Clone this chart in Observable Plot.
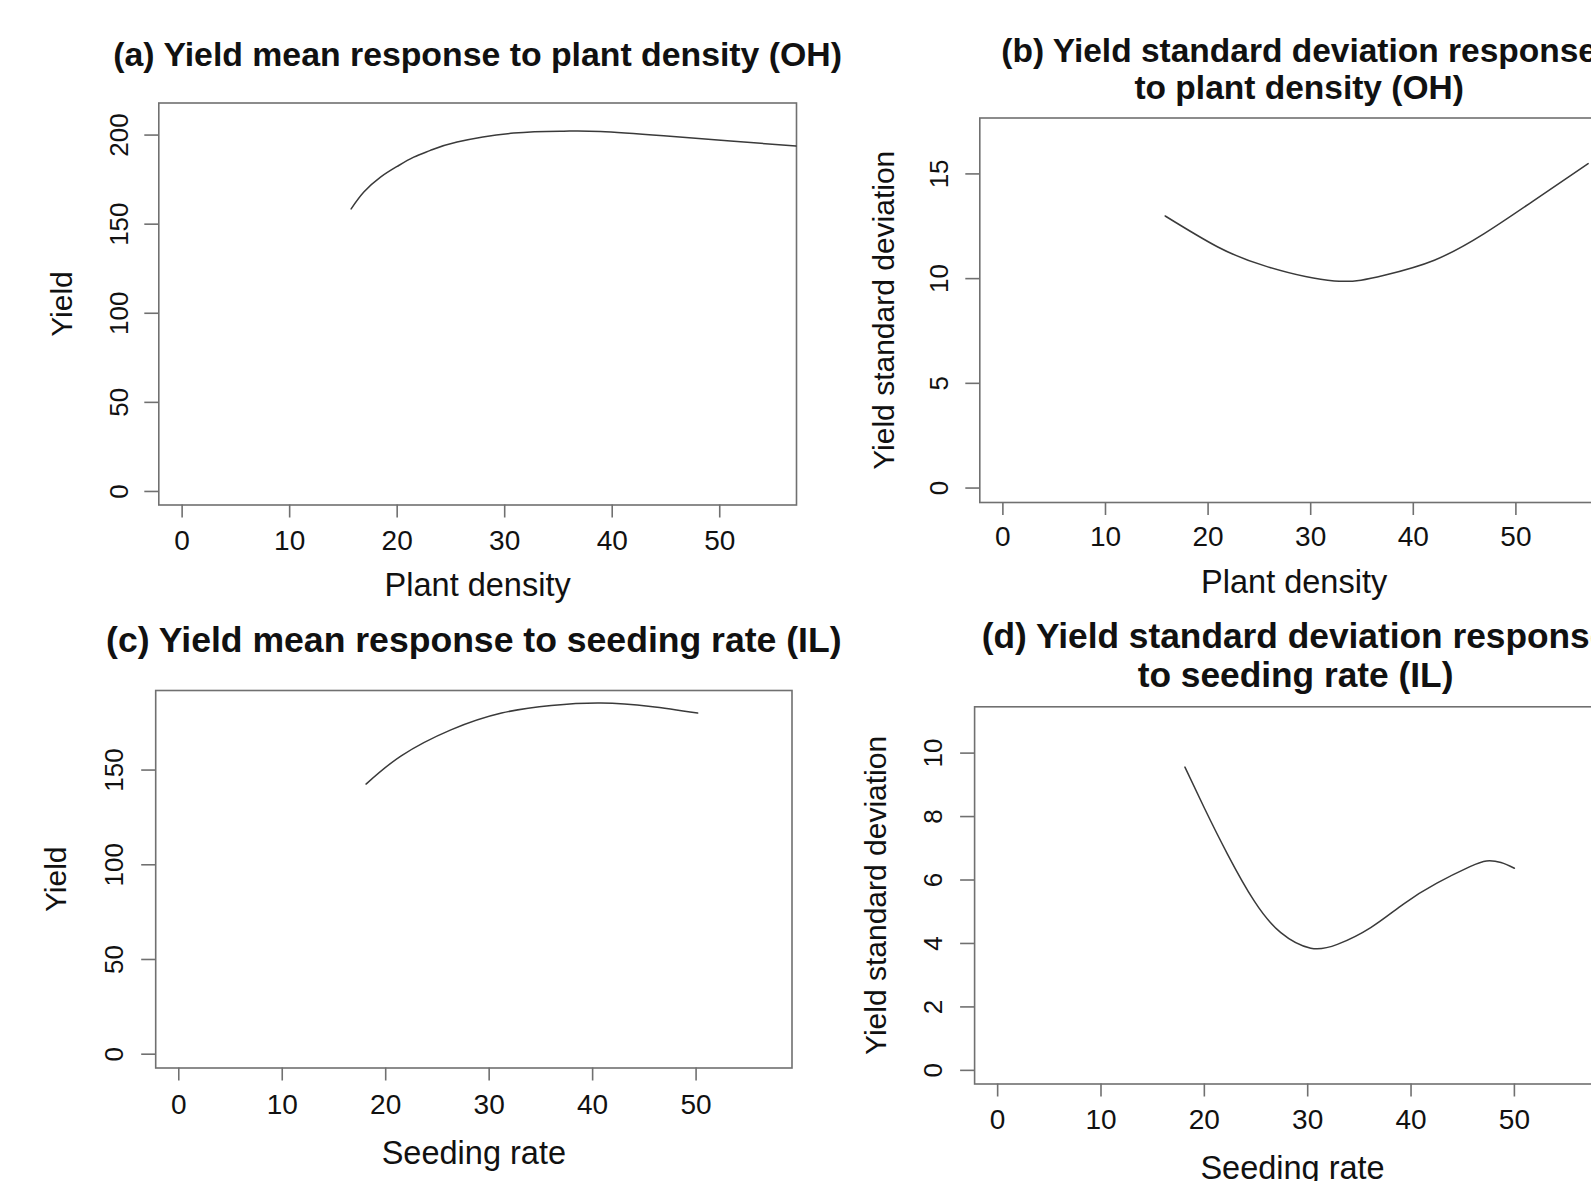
<!DOCTYPE html>
<html>
<head>
<meta charset="utf-8">
<script src="https://cdn.jsdelivr.net/npm/d3@7"></script>
<script src="https://cdn.jsdelivr.net/npm/@observablehq/plot@0.6"></script>
<style>
  html, body { margin: 0; padding: 0; background: #fff; overflow: hidden; }
  #page { position: relative; width: 1591px; height: 1181px; overflow: hidden; background: #fff; }
  #page svg { position: absolute; max-width: none !important; }
</style>
</head>
<body>
<div id="page"></div>
<script>
// ---------------- data ----------------
// (a) yield mean vs plant density (OH)
const densityA = [15.72, 16.9, 18.45, 20.0, 21.54, 23.09, 25.57, 30.84, 35.49, 38.9, 44.78, 51.0, 57.09];
const yieldMeanA = [158.6, 168.0, 176.4, 182.4, 187.6, 191.4, 196.1, 201.1, 202.2, 202.0, 199.6, 196.7, 193.8];

// (b) yield standard deviation vs plant density (OH)
const densityB = [15.82, 20.95, 25.82, 32.3, 37.18, 42.05, 46.91, 51.78, 57.04];
const yieldSdB = [12.99, 11.51, 10.56, 9.89, 10.16, 10.88, 12.15, 13.74, 15.49];

// (c) yield mean vs seeding rate (IL)
const seedingC = [18.1, 21.5, 26.3, 31.2, 36.0, 40.8, 45.6, 50.15];
const yieldMeanC = [142.6, 157.5, 171.2, 180.1, 184.1, 185.4, 183.6, 180.1];

// (d) yield standard deviation vs seeding rate (IL)
const seedingD = [18.12, 20.0, 22.25, 24.82, 27.4, 30.3, 32.87, 36.1, 39.3, 42.5, 45.7, 47.3, 48.7, 50.0];
const yieldSdD = [9.56, 8.27, 6.81, 5.34, 4.34, 3.85, 3.97, 4.50, 5.25, 5.90, 6.42, 6.60, 6.55, 6.37];

// tick values
const xTicks = [0, 10, 20, 30, 40, 50];
const yTicksA = [0, 50, 100, 150, 200];
const yTicksB = [0, 5, 10, 15];
const yTicksC = [0, 50, 100, 150];
const yTicksD = [0, 2, 4, 6, 8, 10];

// texts
const titleA = "(a) Yield mean response to plant density (OH)";
const titleB = "(b) Yield standard deviation response\nto plant density (OH)";
const titleC = "(c) Yield mean response to seeding rate (IL)";
const titleD = "(d) Yield standard deviation response\nto seeding rate (IL)";
const labelDensity = "Plant density";
const labelSeeding = "Seeding rate";
const labelYield = "Yield";
const labelSd = "Yield standard deviation";

// ---------------- styling ----------------
const FONT = "'Liberation Sans', Arial, Helvetica, sans-serif";
const GREY = "#707070";
const LINE = "#3a3a3a";
const TXT = "#111111";

function makePanel(cfg) {
  const ml = cfg.frame.left - cfg.left;
  const mt = cfg.frame.top - cfg.top;
  const mr = cfg.left + cfg.width - cfg.frame.right;
  const mb = cfg.top + cfg.height - cfg.frame.bottom;
  const pts = cfg.xs.map((x, i) => ({x, y: cfg.ys[i]}));
  const svg = Plot.plot({
    width: cfg.width,
    height: cfg.height,
    marginLeft: ml, marginTop: mt, marginRight: mr, marginBottom: mb,
    x: {domain: cfg.xDomain},
    y: {domain: cfg.yDomain},
    style: {fontFamily: FONT, background: "transparent", overflow: "visible", color: TXT},
    marks: [
      Plot.frame({stroke: GREY, strokeWidth: 1.6}),
      Plot.axisX({
        ticks: xTicks, tickSize: 13, tickPadding: cfg.xPad, lineAnchor: "bottom",
        fontSize: 28, stroke: GREY, strokeWidth: 1.6, fill: TXT, label: null,
        tickFormat: d => String(d)
      }),
      Plot.axisY({
        ticks: cfg.yTicks, tickSize: 14, tickPadding: cfg.yPad, tickRotate: -90,
        textAnchor: "middle", lineAnchor: "bottom",
        fontSize: 26, stroke: GREY, strokeWidth: 1.6, fill: TXT, label: null,
        tickFormat: d => String(d)
      }),
      Plot.line(pts, {x: "x", y: "y", stroke: LINE, strokeWidth: 1.5, curve: "natural"}),
      Plot.text([cfg.title], {
        text: d => d, frameAnchor: "top", dy: cfg.titleDy, textAnchor: "middle",
        lineAnchor: "bottom", lineHeight: 1.1, fontSize: cfg.titleSize, fontWeight: "bold", fill: TXT
      }),
      Plot.text([cfg.xLabel], {
        text: d => d, frameAnchor: "bottom", dx: cfg.xLabelDx || 0, dy: cfg.xLabelDy, textAnchor: "middle",
        lineAnchor: "bottom", fontSize: 32.5, fill: TXT
      }),
      Plot.text([cfg.yLabel], {
        text: d => d, frameAnchor: "left", dx: cfg.yLabelDx, rotate: -90, textAnchor: "middle",
        lineAnchor: "bottom", fontSize: 30, fill: TXT
      })
    ]
  });
  svg.style.left = cfg.left + "px";
  svg.style.top = cfg.top + "px";
  document.getElementById("page").appendChild(svg);
}

makePanel({
  left: 0, top: 0, width: 840, height: 610,
  frame: {left: 158.3, right: 796, top: 102.5, bottom: 504.5},
  xDomain: [-2.17, 57.14], yDomain: [-7.6, 218.0],
  yTicks: yTicksA, xs: densityA, ys: yieldMeanA,
  xPad: 31.5, yPad: 17,
  title: titleA, titleDy: -37.5, titleSize: 33.8,
  xLabel: labelDensity, xLabelDy: 90.5,
  yLabel: labelYield, yLabelDx: -86.8
});

makePanel({
  left: 850, top: 0, width: 800, height: 610,
  frame: {left: 979.3, right: 1618, top: 117.5, bottom: 502},
  xDomain: [-2.25, 60.0], yDomain: [-0.69, 17.67],
  yTicks: yTicksB, xs: densityB, ys: yieldSdB,
  xPad: 30.7, yPad: 17.5,
  title: titleB, titleDy: -19, titleSize: 33.5,
  xLabel: labelDensity, xLabelDx: -5, xLabelDy: 90.5,
  yLabel: labelSd, yLabelDx: -86.3
});

makePanel({
  left: 0, top: 600, width: 840, height: 581,
  frame: {left: 155.2, right: 791.5, top: 690, bottom: 1067.5},
  xDomain: [-2.23, 59.27], yDomain: [-7.29, 192.0],
  yTicks: yTicksC, xs: seedingC, ys: yieldMeanC,
  xPad: 32.5, yPad: 19,
  title: titleC, titleDy: -39, titleSize: 35.6,
  xLabel: labelSeeding, xLabelDy: 95.5,
  yLabel: labelYield, yLabelDx: -90.2
});

makePanel({
  left: 850, top: 600, width: 800, height: 581,
  frame: {left: 974.1, right: 1616, top: 706.3, bottom: 1083.5},
  xDomain: [-2.23, 59.88], yDomain: [-0.43, 11.46],
  yTicks: yTicksD, xs: seedingD, ys: yieldSdD,
  xPad: 32, yPad: 18.5,
  title: titleD, titleDy: -20.3, titleSize: 35.3,
  xLabel: labelSeeding, xLabelDx: -3, xLabelDy: 94.5,
  yLabel: labelSd, yLabelDx: -89
});
</script>
</body>
</html>
